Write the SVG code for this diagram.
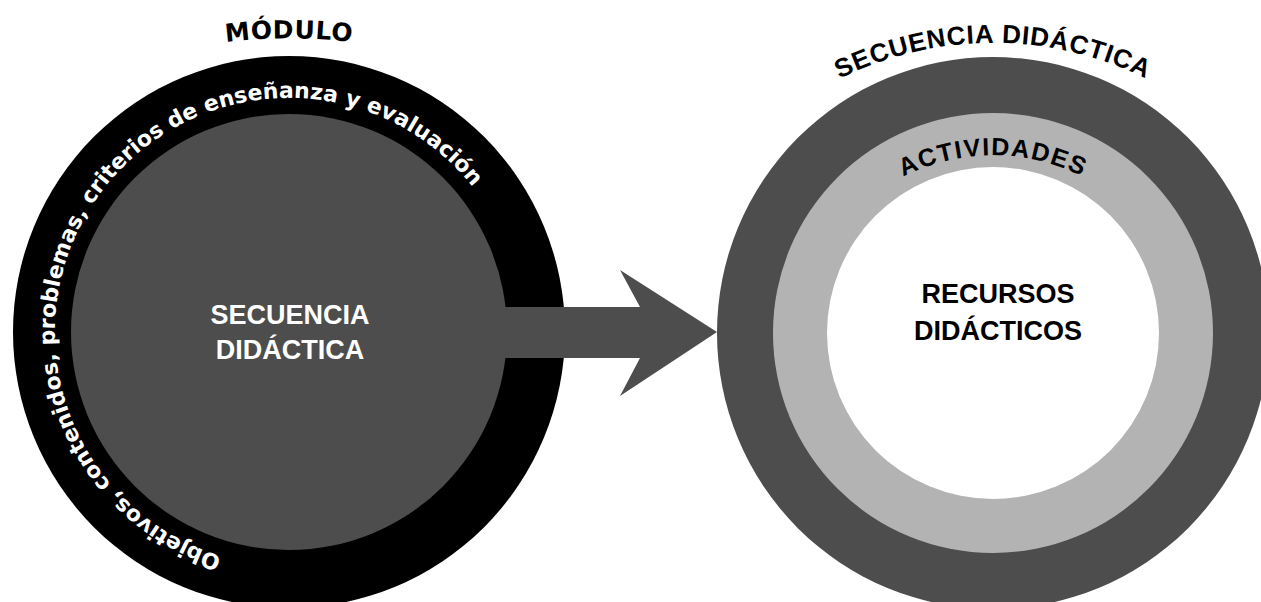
<svg xmlns="http://www.w3.org/2000/svg" width="1261" height="602" viewBox="0 0 1261 602">
  <style>
    .arcw { font-family: "DejaVu Sans", Verdana, sans-serif; font-weight: bold; fill: #ffffff; font-size: 22px; }
    .title { font-family: "DejaVu Sans", Verdana, sans-serif; font-weight: bold; fill: #000000; font-size: 25px; }
    .arcb { font-family: "Liberation Sans", Arial, sans-serif; font-weight: bold; fill: #000000; }
    .center { font-family: "Liberation Sans", Arial, sans-serif; font-weight: bold; font-size: 27px; text-anchor: middle; }
    .dark { fill: #4d4d4d; }
  </style>
  <defs>
    <path id="ringPath" d="M 221.8 556.2 A 234 234 0 1 1 356.2 107.8 A 234 234 0 1 1 221.8 556.2"/>
    <path id="moduloPath" d="M 89 80 A 500 500 0 0 1 489 80"/>
    <path id="secPath" d="M 695 214 A 345 345 0 0 1 1291 214"/>
    <path id="actPath" d="M 820 255 A 200 200 0 0 1 1166 255"/>
  </defs>
  <rect width="1261" height="602" fill="#ffffff"/>

  <g id="node-modulo">
    <circle cx="289" cy="332" r="276" fill="#000000"/>
    <circle cx="289" cy="332" r="218" class="dark"/>
    <text class="arcw"><textPath href="#ringPath">Objetivos, contenidos, problemas, criterios de enseñanza y evaluación</textPath></text>
    <text class="title" letter-spacing="0.5"><textPath href="#moduloPath" startOffset="50%" text-anchor="middle">MÓDULO</textPath></text>
  </g>

  <g id="connectors">
    <polygon class="dark" points="490,307 640,307 620,270 717,332 620,396 640,358 490,358"/>
  </g>

  <g id="node-secuencia-label">
    <text class="center" fill="#ffffff" x="290" y="324">SECUENCIA</text>
    <text class="center" fill="#ffffff" x="290" y="359">DIDÁCTICA</text>
  </g>

  <g id="node-secuencia">
    <circle cx="993" cy="333" r="276" class="dark"/>
    <circle cx="993" cy="333" r="220" fill="#b3b3b3"/>
    <circle cx="993" cy="333" r="166" fill="#ffffff"/>
    <text class="arcb" font-size="26" letter-spacing="0.8"><textPath href="#secPath" startOffset="50%" text-anchor="middle">SECUENCIA DIDÁCTICA</textPath></text>
    <text class="arcb" font-size="25" letter-spacing="1.5"><textPath href="#actPath" startOffset="50%" text-anchor="middle">ACTIVIDADES</textPath></text>
    <text class="center" fill="#000000" x="998" y="303">RECURSOS</text>
    <text class="center" fill="#000000" x="998" y="340">DIDÁCTICOS</text>
  </g>
</svg>
